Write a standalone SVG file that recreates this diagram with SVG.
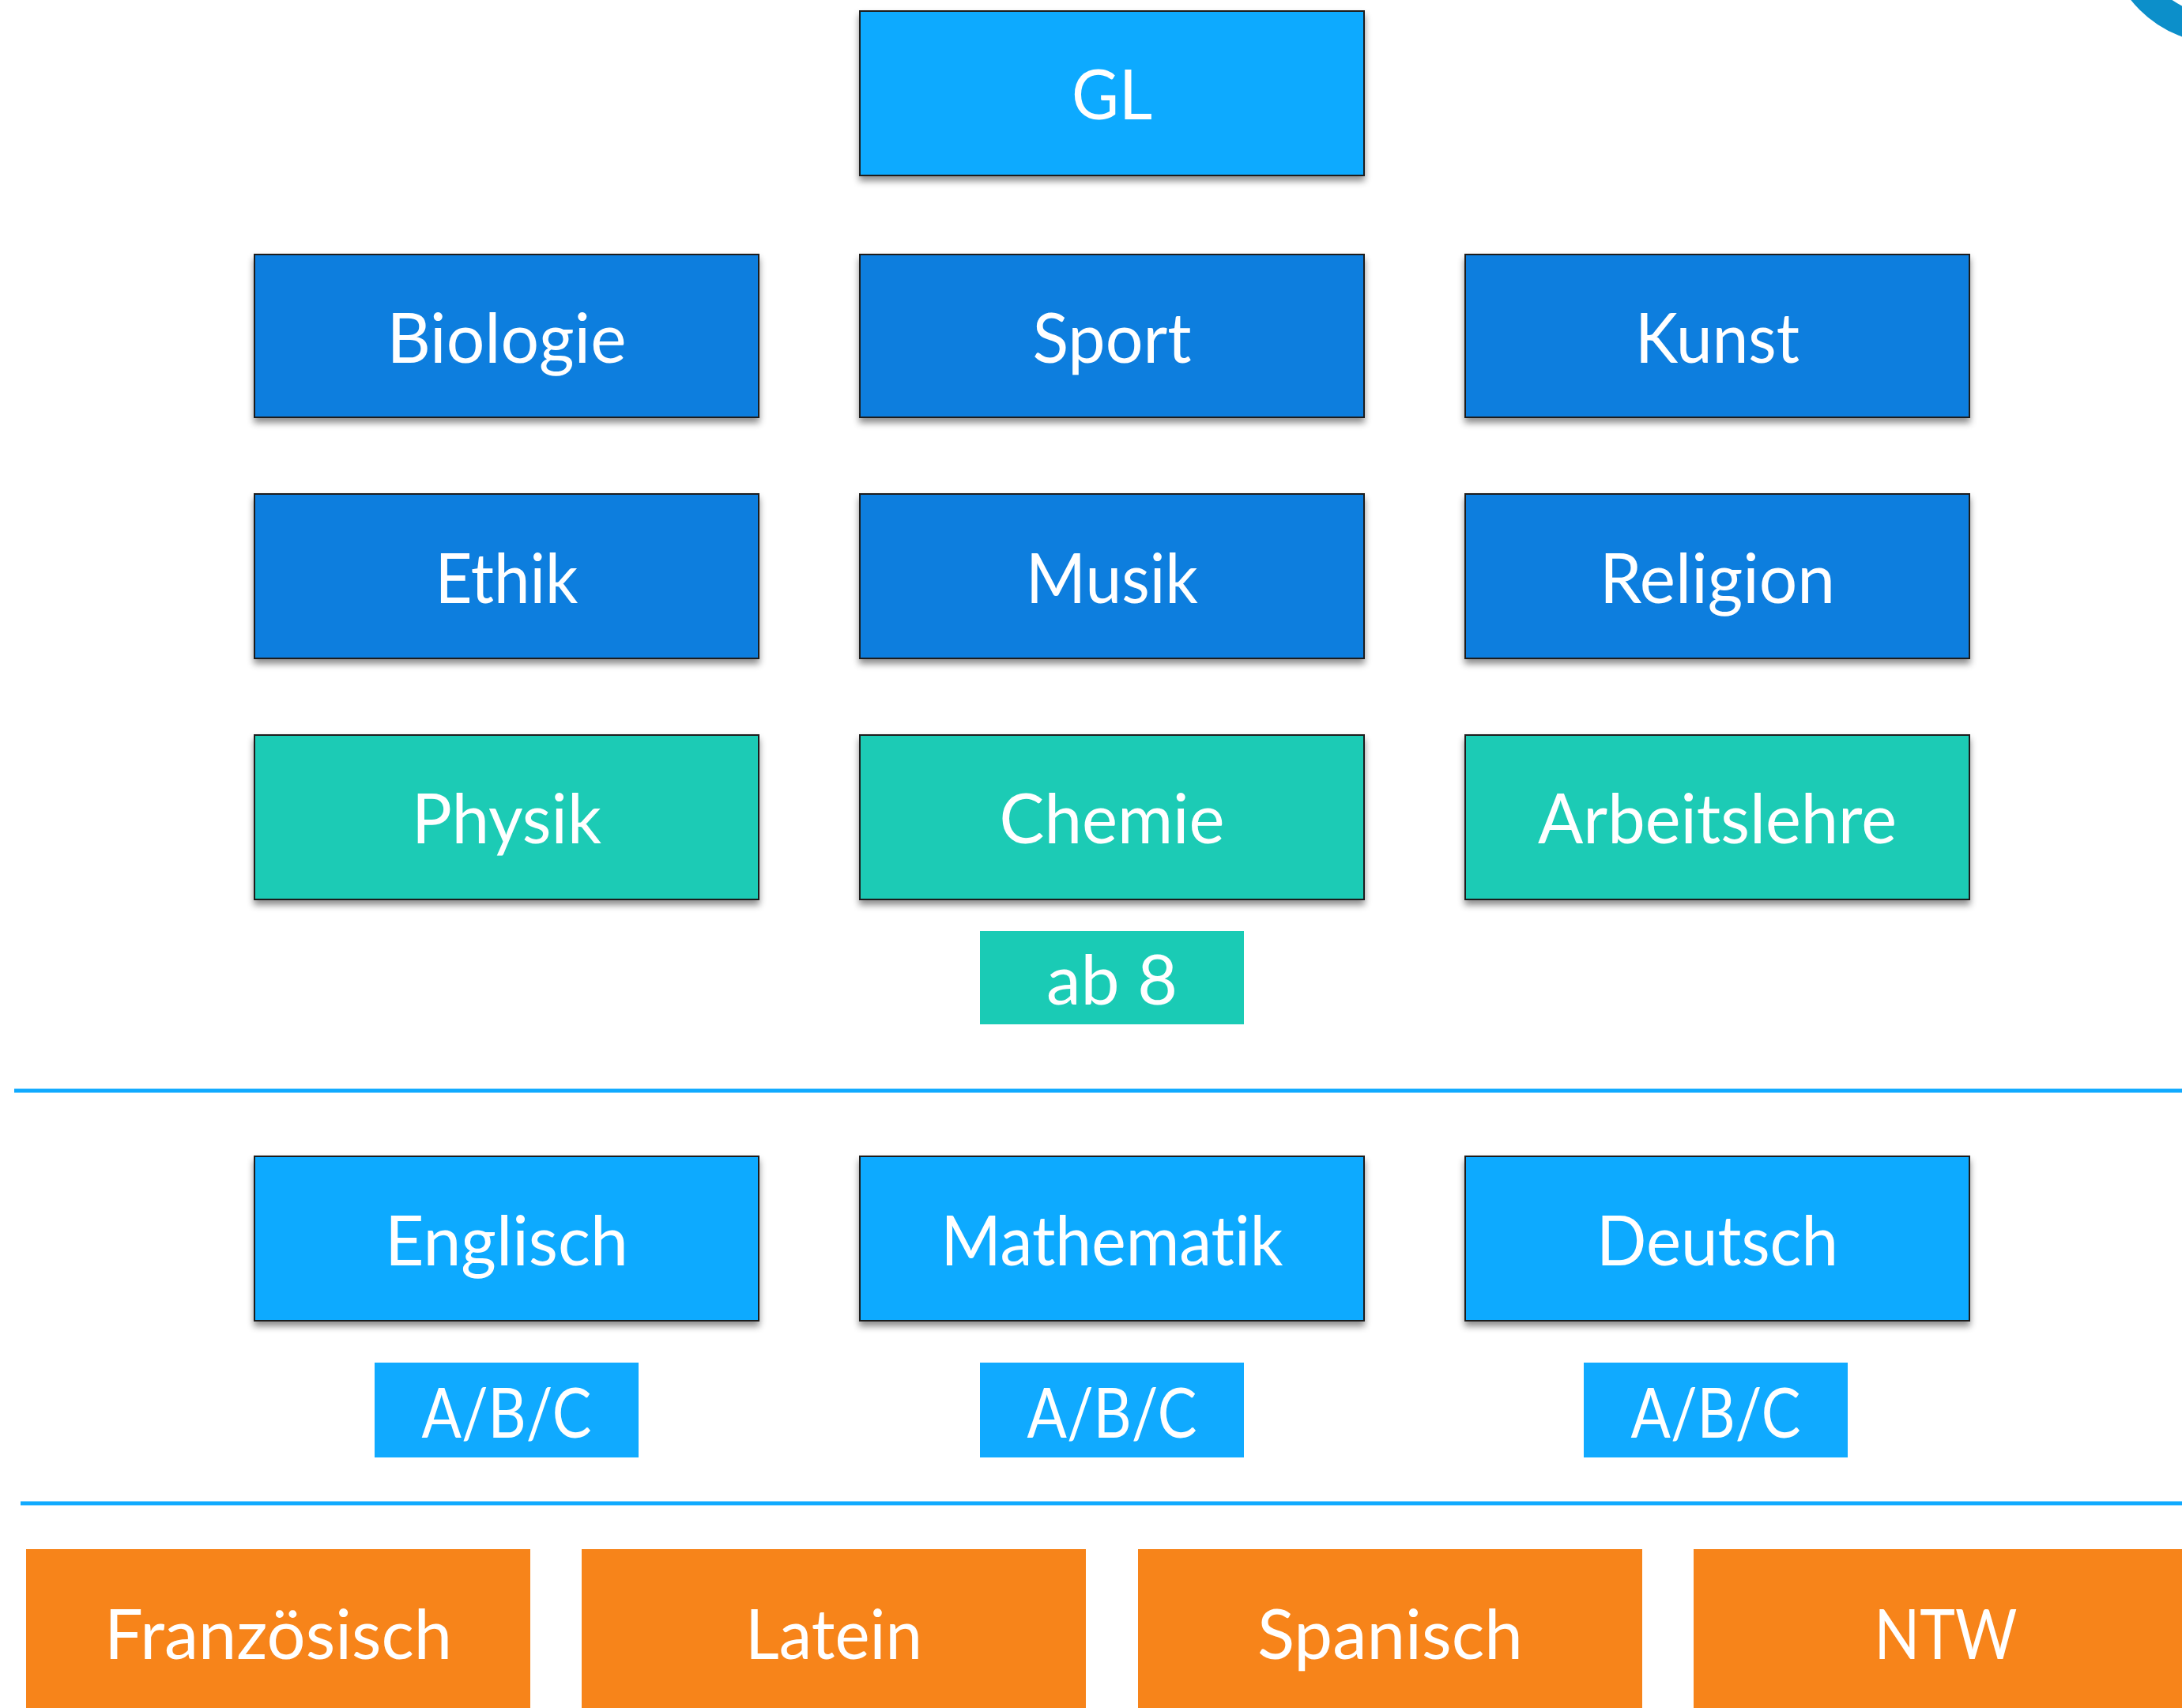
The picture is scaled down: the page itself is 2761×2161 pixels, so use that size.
<svg xmlns="http://www.w3.org/2000/svg" width="2761" height="2161" viewBox="0 0 2761 2161">
<style>
.box{stroke:#1a1a1a;stroke-width:2;filter:url(#sh)}
.lb{fill:#10aaff}
.db{fill:#0d7ede}
.gr{fill:#1acbb5}
.or{fill:#f7841a}
.t{font-family:Lato,"Open Sans","Liberation Sans",sans-serif;font-size:88px;fill:#ffffff;text-anchor:middle;font-variant-ligatures:none;font-feature-settings:"liga" 0}
.sep{stroke:#10aaff;stroke-width:5}
</style>
<defs>
<filter id="sh" x="-5%" y="-10%" width="110%" height="130%">
<feDropShadow dx="0" dy="6" stdDeviation="4" flood-color="#000" flood-opacity="0.45"/>
</filter>
</defs>
<rect width="2761" height="2161" fill="#ffffff"/>
<circle cx="2810" cy="-90" r="127" fill="none" stroke="#0c8fca" stroke-width="36"/>
<g id="connectors">
<line class="sep" x1="18" y1="1380" x2="2761" y2="1380"/>
<line class="sep" x1="26" y1="1902" x2="2761" y2="1902"/>
</g>
<g id="gl"><rect class="box lb" x="1088" y="14" width="638" height="208"/><text class="t" x="1407" y="151" textLength="102" lengthAdjust="spacingAndGlyphs">GL</text></g>
<g id="biologie"><rect class="box db" x="322" y="322" width="638" height="206"/><text class="t" x="641" y="459" textLength="303" lengthAdjust="spacingAndGlyphs">Biologie</text></g>
<g id="sport"><rect class="box db" x="1088" y="322" width="638" height="206"/><text class="t" x="1407" y="459" textLength="201" lengthAdjust="spacingAndGlyphs">Sport</text></g>
<g id="kunst"><rect class="box db" x="1854" y="322" width="638" height="206"/><text class="t" x="2173" y="459" textLength="208" lengthAdjust="spacingAndGlyphs">Kunst</text></g>
<g id="ethik"><rect class="box db" x="322" y="625" width="638" height="208"/><text class="t" x="641" y="763" textLength="181" lengthAdjust="spacingAndGlyphs">Ethik</text></g>
<g id="musik"><rect class="box db" x="1088" y="625" width="638" height="208"/><text class="t" x="1407" y="763" textLength="218" lengthAdjust="spacingAndGlyphs">Musik</text></g>
<g id="religion"><rect class="box db" x="1854" y="625" width="638" height="208"/><text class="t" x="2173" y="763" textLength="298" lengthAdjust="spacingAndGlyphs">Religion</text></g>
<g id="physik"><rect class="box gr" x="322" y="930" width="638" height="208"/><text class="t" x="641" y="1067" textLength="240" lengthAdjust="spacingAndGlyphs">Physik</text></g>
<g id="chemie"><rect class="box gr" x="1088" y="930" width="638" height="208"/><text class="t" x="1407" y="1067" textLength="285" lengthAdjust="spacingAndGlyphs">Chemie</text></g>
<g id="arbeitslehre"><rect class="box gr" x="1854" y="930" width="638" height="208"/><text class="t" x="2173" y="1067" textLength="454" lengthAdjust="spacingAndGlyphs">Arbeitslehre</text></g>
<g id="ab8"><rect class="gr" x="1240" y="1178" width="334" height="118"/><text class="t" x="1407" y="1271" textLength="166" lengthAdjust="spacingAndGlyphs">ab 8</text></g>
<g id="englisch"><rect class="box lb" x="322" y="1463" width="638" height="208"/><text class="t" x="641" y="1601" textLength="308" lengthAdjust="spacingAndGlyphs">Englisch</text></g>
<g id="mathematik"><rect class="box lb" x="1088" y="1463" width="638" height="208"/><text class="t" x="1407" y="1601" textLength="433" lengthAdjust="spacingAndGlyphs">Mathematik</text></g>
<g id="deutsch"><rect class="box lb" x="1854" y="1463" width="638" height="208"/><text class="t" x="2173" y="1601" textLength="306" lengthAdjust="spacingAndGlyphs">Deutsch</text></g>
<g id="abc1"><rect class="lb" x="474" y="1724" width="334" height="120"/><text class="t" x="641" y="1819" textLength="215" lengthAdjust="spacingAndGlyphs">A/B/C</text></g>
<g id="abc2"><rect class="lb" x="1240" y="1724" width="334" height="120"/><text class="t" x="1407" y="1819" textLength="215" lengthAdjust="spacingAndGlyphs">A/B/C</text></g>
<g id="abc3"><rect class="lb" x="2004" y="1724" width="334" height="120"/><text class="t" x="2171" y="1819" textLength="215" lengthAdjust="spacingAndGlyphs">A/B/C</text></g>
<g id="franzoesisch"><rect class="or" x="33" y="1960" width="638" height="210"/><text class="t" x="352" y="2099" textLength="440" lengthAdjust="spacingAndGlyphs">Französisch</text></g>
<g id="latein"><rect class="or" x="736" y="1960" width="638" height="210"/><text class="t" x="1055" y="2099" textLength="224" lengthAdjust="spacingAndGlyphs">Latein</text></g>
<g id="spanisch"><rect class="or" x="1440" y="1960" width="638" height="210"/><text class="t" x="1759" y="2099" textLength="336" lengthAdjust="spacingAndGlyphs">Spanisch</text></g>
<g id="ntw"><rect class="or" x="2143" y="1960" width="638" height="210"/><text class="t" x="2462" y="2099" textLength="181" lengthAdjust="spacingAndGlyphs">NTW</text></g>
</svg>
